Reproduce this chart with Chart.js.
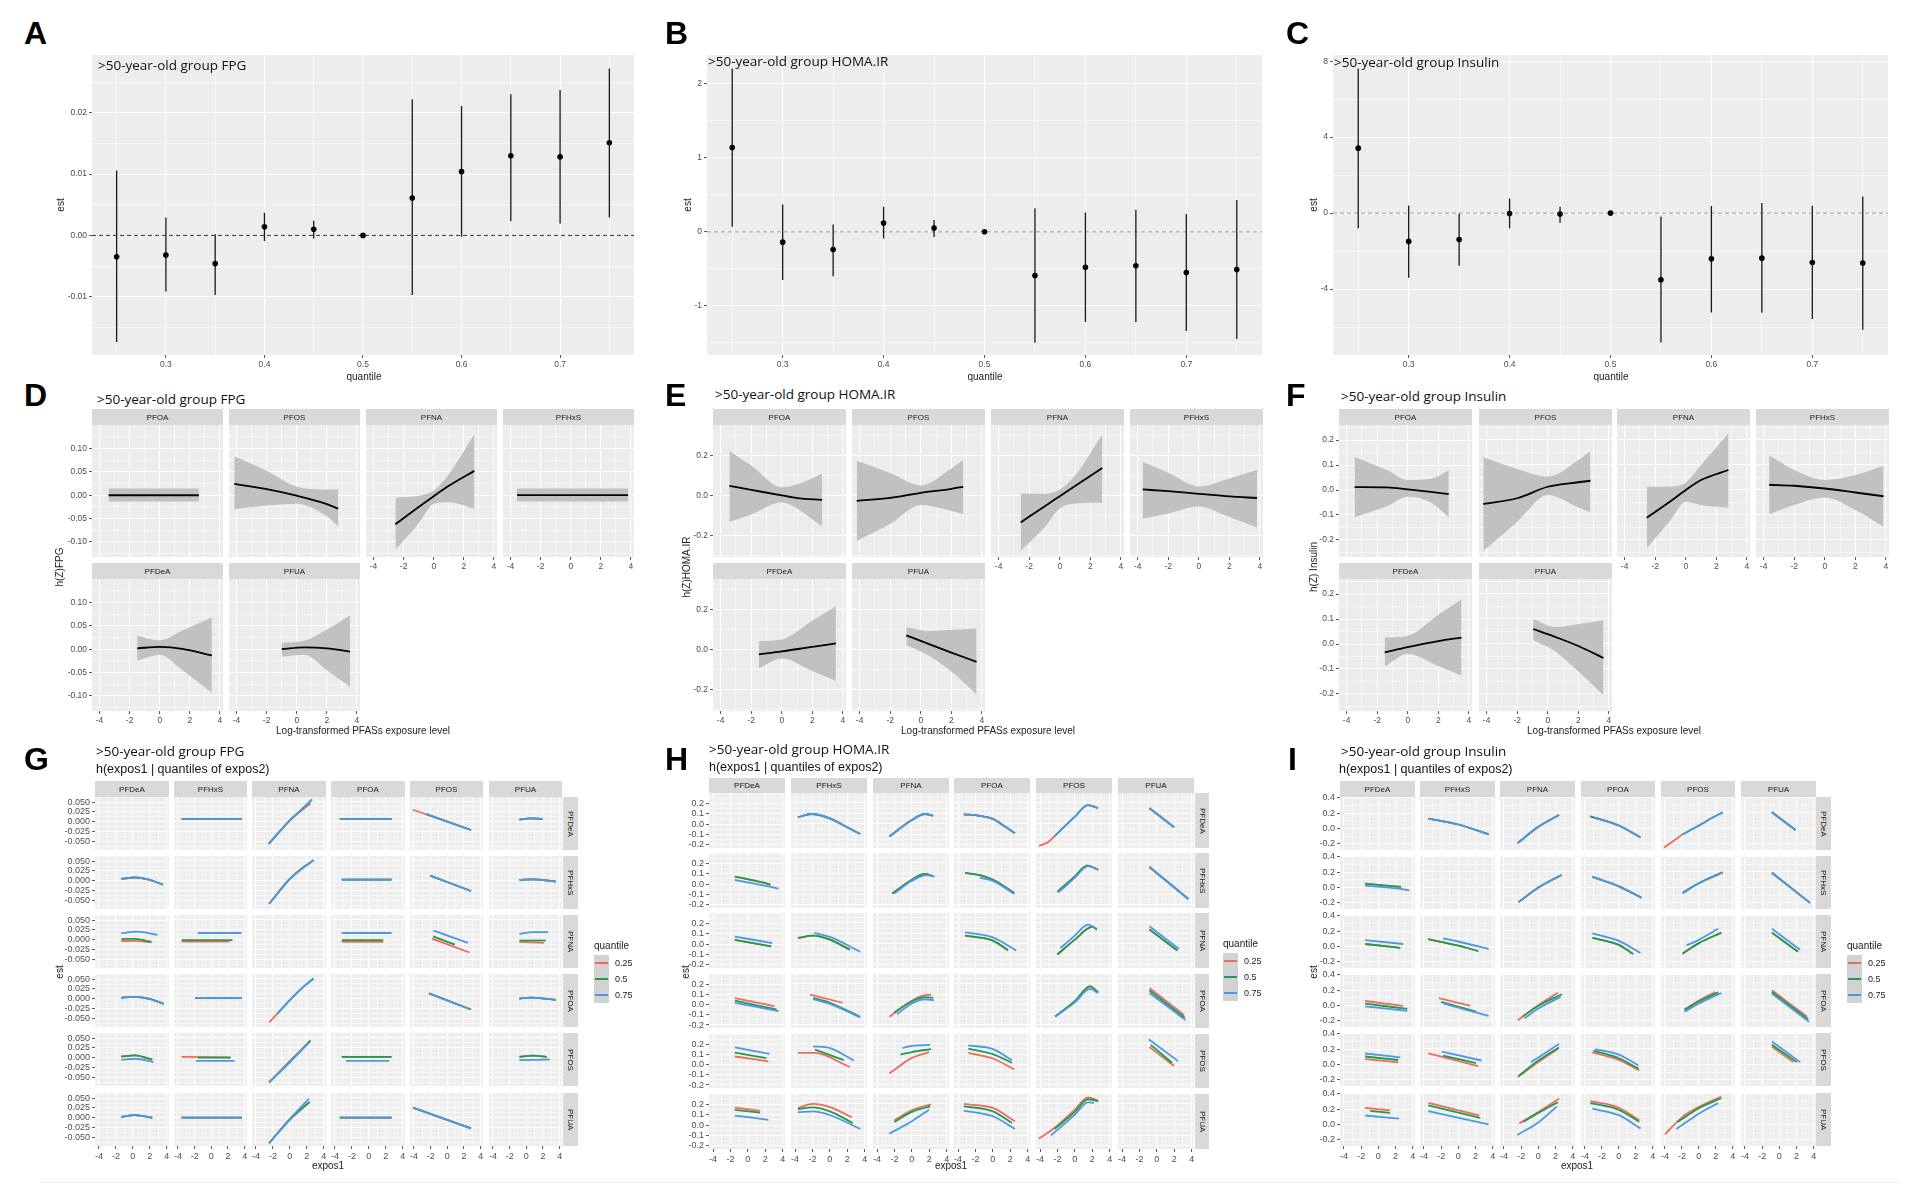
<!DOCTYPE html>
<html>
<head>
<meta charset="utf-8">
<title>PFAS mixture effects, >50-year-old group</title>
<script src="https://cdn.jsdelivr.net/npm/chart.js@4.4.1/dist/chart.umd.min.js"></script>
<style>
  html, body { margin: 0; padding: 0; background: #fff; }
  body { position: relative; width: 1910px; height: 1192px; overflow: hidden; font-family: "Liberation Sans", Arial, sans-serif; }
  canvas { position: absolute; }
  .txt { position: absolute; white-space: nowrap; z-index: 2; color: #111; }
  .letter { font-weight: bold; font-size: 32px; line-height: 32px; color: #000; }
  .ttl { font-family: "Open Sans", sans-serif; font-size: 13.5px; line-height: 13px; }
  .sub { font-size: 12.5px; line-height: 15px; }
  .axt { font-size: 10px; line-height: 10px; color: #222; transform: translate(-50%, -50%); }
  .rot { transform: translate(-50%, -50%) rotate(-90deg); }
  .strip { position: absolute; background: #D9D9D9; color: #1A1A1A; font-size: 8px; display: flex; align-items: center; justify-content: center; z-index: 1; overflow: hidden; }
  .strip.v span { writing-mode: vertical-rl; }
  .key { position: absolute; background: #D2D2D2; z-index: 1; }
  .keyline { position: absolute; height: 2px; z-index: 2; }
  .legtxt { font-size: 9px; line-height: 9px; color: #222; }
</style>
</head>
<body>
<script>
// ---------- A-C: overall mixture effect by quantile ----------
const quantiles = [0.25, 0.30, 0.35, 0.40, 0.45, 0.50, 0.55, 0.60, 0.65, 0.70, 0.75];
const fpgEst = [-0.0035, -0.0032, -0.0046, 0.0014, 0.0010, 0, 0.0061, 0.0104, 0.0130, 0.0128, 0.0151];
const fpgLo  = [-0.0174, -0.0092, -0.0097, -0.0009, -0.0005, 0, -0.0097, -0.0002, 0.0023, 0.0019, 0.0029];
const fpgHi  = [0.0106, 0.0029, 0.0002, 0.0037, 0.0024, 0, 0.0222, 0.0211, 0.0230, 0.0237, 0.0272];
const homaEst = [1.14, -0.14, -0.24, 0.12, 0.05, 0, -0.59, -0.48, -0.46, -0.55, -0.51];
const homaLo  = [0.07, -0.65, -0.60, -0.09, -0.07, 0, -1.50, -1.22, -1.22, -1.34, -1.45];
const homaHi  = [2.21, 0.37, 0.10, 0.34, 0.16, 0, 0.32, 0.26, 0.30, 0.24, 0.43];
const insEst = [3.42, -1.49, -1.39, -0.02, -0.05, 0, -3.51, -2.40, -2.37, -2.60, -2.63];
const insLo  = [-0.79, -3.40, -2.77, -0.79, -0.51, 0, -6.81, -5.23, -5.25, -5.58, -6.14];
const insHi  = [7.61, 0.40, -0.02, 0.77, 0.33, 0, -0.18, 0.37, 0.53, 0.39, 0.88];

const qTicks = [0.3, 0.4, 0.5, 0.6, 0.7];
const qMinor = [0.25, 0.35, 0.45, 0.55, 0.65, 0.75];
const fpgTicks = [-0.01, 0, 0.01, 0.02], fpgMinor = [-0.015, -0.005, 0.005, 0.015, 0.025];
const homaTicks = [-1, 0, 1, 2], homaMinor = [-1.5, -0.5, 0.5, 1.5];
const insTicks = [-4, 0, 4, 8], insMinor = [-6, -2, 2, 6];

// ---------- D-F: univariate exposure-response, [name, x, fit, lower, upper] ----------
const D_FPG = [
  ['PFOA', [-3.4, 2.6], [0, 0], [-0.0135, -0.0135], [0.0142, 0.0142]],
  ['PFOS', [-4.15, -2, 0, 2, 2.75], [0.024, 0.013, -0.001, -0.019, -0.029], [-0.030, -0.022, -0.018, -0.045, -0.067], [0.083, 0.052, 0.018, 0.012, 0.013]],
  ['PFNA', [-2.55, -1, 0, 1, 2.7], [-0.062, -0.025, -0.002, 0.02, 0.052], [-0.117, -0.06, -0.018, -0.015, -0.029], [-0.005, -0.001, 0.01, 0.045, 0.131]],
  ['PFHxS', [-3.57, 3.81], [0, 0], [-0.0135, -0.0135], [0.0142, 0.0142]],
  ['PFDeA', [-1.5, 0, 1.5, 3.46], [0.002, 0.005, 0.001, -0.013], [-0.025, -0.012, -0.045, -0.093], [0.029, 0.019, 0.040, 0.068]],
  ['PFUA', [-1.0, 0.5, 2, 3.54], [0, 0.004, 0.002, -0.005], [-0.016, -0.012, -0.045, -0.080], [0.014, 0.018, 0.042, 0.072]]
];
const E_HOMA = [
  ['PFOA', [-3.43, -2, 0, 1, 2.64], [0.048, 0.028, 0.0, -0.013, -0.022], [-0.133, -0.095, -0.035, -0.065, -0.157], [0.223, 0.15, 0.042, 0.055, 0.11]],
  ['PFOS', [-4.19, -2, 0, 2, 2.78], [-0.027, -0.012, 0.013, 0.033, 0.043], [-0.228, -0.142, -0.048, -0.078, -0.093], [0.173, 0.112, 0.05, 0.135, 0.177]],
  ['PFNA', [-2.56, -1, 0, 1, 2.78], [-0.135, -0.055, -0.004, 0.047, 0.137], [-0.277, -0.16, -0.065, -0.04, -0.037], [0.01, 0.008, 0.03, 0.1, 0.305]],
  ['PFHxS', [-3.67, -2, 0, 2, 3.81], [0.03, 0.021, 0.008, -0.005, -0.013], [-0.117, -0.09, -0.055, -0.108, -0.16], [0.168, 0.113, 0.045, 0.085, 0.127]],
  ['PFDeA', [-1.5, 0, 2, 3.54], [-0.025, -0.01, 0.013, 0.03], [-0.095, -0.045, -0.108, -0.158], [0.042, 0.05, 0.143, 0.217]],
  ['PFUA', [-0.95, 0.5, 2, 3.65], [0.07, 0.028, -0.016, -0.062], [0.022, -0.03, -0.11, -0.225], [0.112, 0.092, 0.098, 0.105]]
];
const F_INS = [
  ['PFOA', [-3.48, -1.37, 0, 1.5, 2.68], [0.012, 0.011, 0.003, -0.007, -0.016], [-0.109, -0.065, -0.027, -0.05, -0.109], [0.131, 0.08, 0.04, 0.045, 0.077]],
  ['PFOS', [-4.22, -2, 0, 2, 2.79], [-0.056, -0.033, 0.013, 0.031, 0.037], [-0.244, -0.127, -0.02, -0.07, -0.089], [0.131, 0.084, 0.053, 0.12, 0.156]],
  ['PFNA', [-2.55, -1, 0, 1, 2.79], [-0.111, -0.045, 0.0, 0.04, 0.08], [-0.233, -0.12, -0.047, -0.06, -0.071], [0.013, 0.013, 0.03, 0.1, 0.227]],
  ['PFHxS', [-3.64, -2, 0, 2, 3.84], [0.021, 0.017, 0.006, -0.01, -0.025], [-0.097, -0.06, -0.03, -0.08, -0.147], [0.139, 0.08, 0.04, 0.06, 0.096]],
  ['PFDeA', [-1.51, 0, 2, 3.51], [-0.033, -0.012, 0.012, 0.026], [-0.09, -0.04, -0.089, -0.126], [0.026, 0.033, 0.117, 0.179]],
  ['PFUA', [-0.96, 0.5, 2, 3.64], [0.06, 0.028, -0.008, -0.056], [0.016, -0.03, -0.11, -0.205], [0.1, 0.068, 0.08, 0.095]]
];
const expoTicks = [-4, -2, 0, 2, 4], expoMinor = [-3, -1, 1, 3];
const dTicks = [-0.1, -0.05, 0, 0.05, 0.1], dMinor = [-0.125, -0.075, -0.025, 0.025, 0.075, 0.125];
const eTicks = [-0.2, 0, 0.2], eMinor = [-0.3, -0.1, 0.1, 0.3];
const fTicks = [-0.2, -0.1, 0, 0.1, 0.2], fMinor = [-0.25, -0.15, -0.05, 0.05, 0.15, 0.25];

// ---------- G-I: bivariate, h(expos1 | quantiles of expos2) ----------
// [row = expos2, col = expos1, q0.25 pts, q0.5 pts, q0.75 pts]; missing -> same as previous
const expoNames = ['PFDeA', 'PFHxS', 'PFNA', 'PFOA', 'PFOS', 'PFUA'];
const qLevels = ['0.25', '0.5', '0.75'];
const G_FPG = [
  [0,1,[-3.56,0.006, 3.66,0.006]],
  [0,2,[-2.5,-0.057, 0,0.003, 1.5,0.03, 2.45,0.046],[-2.5,-0.057, 0,0.003, 1.5,0.033, 2.6,0.056]],
  [0,3,[-3.43,0.006, 2.68,0.006]],
  [0,4,[-4.12,0.03, 2.83,-0.0215],[-2.5,0.019, 2.83,-0.0215]],
  [0,5,[-0.83,0.005, 0.5,0.008, 1.95,0.0067]],
  [1,0,[-1.37,0.005, 0.24,0.0083, 2,0.002, 3.56,-0.010]],
  [1,2,[-2.44,-0.059, 0,0.004, 1.5,0.032, 2.83,0.052]],
  [1,3,[-3.2,0.0025, 2.68,0.0025]],
  [1,4,[-2.05,0.0125, 2.83,-0.0267]],
  [1,5,[-0.83,0.0017, 0.8,0.003, 3.51,-0.0025]],
  [2,0,[-1.37,-0.0033, 0.24,-0.003, 2.2,-0.0067],[-1.37,0.0017, 0.24,0.0025, 2.2,-0.005],[-1.37,0.0167, 0.5,0.021, 2.93,0.0125]],
  [2,1,[-3.56,-0.005, 2.15,-0.005],[-3.56,-0.0017, 2.54,-0.0017],[-1.61,0.0167, 3.6,0.0167]],
  [2,3,[-3.2,-0.006, 1.7,-0.006],[-3.2,-0.0017, 1.7,-0.0017],[-3.2,0.0167, 2.68,0.0167]],
  [2,4,[-1.85,0.0025, 2.66,-0.033],[-1.7,0.008, 0.9,-0.013],[-1.7,0.023, 2.46,-0.0083]],
  [2,5,[-0.83,-0.006, 2.1,-0.0083],[-0.83,-0.0025, 2.34,-0.0025],[-0.83,0.014, 0.8,0.019, 2.6,0.019]],
  [3,0,[-1.37,0.0025, 0,0.005, 2,0.0, 3.66,-0.0133]],
  [3,1,[-1.95,0.0017, 3.66,0.0017]],
  [3,2,[-2.44,-0.061, -1.45,-0.038],[-1.45,-0.038, 0,-0.004, 1.5,0.028, 2.8,0.051]],
  [3,4,[-2.2,0.0133, 2.83,-0.028]],
  [3,5,[-0.83,0, 0.5,0.0025, 3.51,-0.0033]],
  [4,0,[-1.37,0.003, 0.24,0.006, 2.29,-0.005],null,[-1.37,-0.005, 0.24,-0.0025, 2.43,-0.011]],
  [4,1,[-3.56,0.0017, 2.3,0.0005],[-1.6,0, 2.3,0],[-1.85,-0.0083, 2.78,-0.0083]],
  [4,2,[-2.44,-0.063, 0,-0.01, 2.44,0.043],null,[-2.44,-0.063, 0,-0.012, 2.2,0.037]],
  [4,3,[-3.2,0.0017, 2.68,0.0017],null,[-2.7,-0.0083, 2.4,-0.0083]],
  [4,5,[-0.83,0.0017, 0.8,0.005, 2.44,0.0017],null,[-0.83,-0.0067, 2.78,-0.005]],
  [5,0,[-1.37,0.0025, 0.24,0.0067, 2.29,0]],
  [5,1,[-3.56,0, 3.66,0]],
  [5,2,[-2.44,-0.065, 0,-0.005, 2.34,0.04],null,[-2.44,-0.065, 0,-0.004, 2.25,0.048]],
  [5,3,[-3.43,0, 2.68,0]],
  [5,4,[-4.12,0.025, 2.83,-0.0275]]
];
const H_HOMA = [
  [0,1,[-3.67,0.063, -2.16,0.095, 0,0.054, 2,-0.032, 3.48,-0.095]],
  [0,2,[-2.59,-0.12, 0,0.038, 1.5,0.095, 2.45,0.079]],
  [0,3,[-3.34,0.092, -1.5,0.078, 0,0.048, 1.5,-0.03, 2.54,-0.089]],
  [0,4,[-4.14,-0.21, -3.1,-0.175, -2.26,-0.11],[-2.26,-0.11, 0,0.07, 1.5,0.18, 2.68,0.15]],
  [0,5,[-0.85,0.15, 1.98,-0.032]],
  [1,0,[-1.5,0.073, 1.65,0.016, 2.6,-0.006],null,[-1.5,0.041, 2.35,-0.022, 3.53,-0.044]],
  [1,2,[-2.26,-0.092, 0,0.041, 1.5,0.095, 2.45,0.073],null,[-2.0,-0.09, 0,0.03, 1.7,0.085, 2.6,0.07]],
  [1,3,[-3.2,0.105, -1.5,0.085, 0,0.041, 2.45,-0.086],null,[-1.5,0.06, 0,0.03, 2.45,-0.095]],
  [1,4,[-2.02,-0.076, 0,0.073, 1.41,0.175, 2.68,0.137],null,[-1.9,-0.08, 0,0.06, 1.5,0.17, 2.68,0.135]],
  [1,5,[-0.85,0.162, 3.62,-0.143]],
  [2,0,[-1.5,0.041, 2.68,-0.022],null,[-1.5,0.073, 2.82,0.01]],
  [2,1,[-3.67,0.057, -1.93,0.079, 0,0.041, 2.3,-0.054],null,[-1.79,0.105, 0,0.067, 3.48,-0.073]],
  [2,3,[-3.2,0.079, 0,0.032, 1.74,-0.06],null,[-3.2,0.111, 0,0.063, 2.68,-0.063]],
  [2,4,[-2.02,-0.10, 0,0.041, 1.98,0.162, 2.54,0.137],null,[-1.65,-0.038, 0,0.079, 1.5,0.184, 2.54,0.143]],
  [2,5,[-0.85,0.137, 2.35,-0.063],null,[-0.85,0.168, 2.54,-0.048]],
  [3,0,[-1.5,0.063, 3.06,-0.016],[-1.5,0.038, 3.3,-0.048],[-1.5,0.016, 3.53,-0.063]],
  [3,1,[-2.26,0.095, 1.46,0.016],[-1.93,0.063, 0,0.016, 3.48,-0.12],[-1.93,0.05, 0,0.005, 3.48,-0.125]],
  [3,2,[-2.59,-0.12, 0,0.035, 1.5,0.09, 2.2,0.092],[-2.02,-0.079, 0,0.03, 1.5,0.07, 2.45,0.063],[-1.7,-0.095, 0,0.01, 1.5,0.05, 2.54,0.041]],
  [3,4,[-2.26,-0.117, 0,0.032, 1.74,0.175, 2.68,0.117],null,[-2.26,-0.12, 0,0.02, 1.74,0.15, 2.68,0.11]],
  [3,5,[-0.85,0.159, 3.15,-0.105],[-0.85,0.135, 3.2,-0.13],[-0.85,0.111, 3.29,-0.152]],
  [4,0,[-1.5,0.079, 2.35,0.032],[-1.5,0.117, 2.12,0.063],[-1.5,0.168, 2.49,0.105]],
  [4,1,[-3.67,0.111, -1.79,0.111, 2.3,-0.025],[-1.7,0.143, 1.6,0.041],[-1.93,0.175, 0,0.159, 2.77,0.038]],
  [4,2,[-2.59,-0.089, 0,0.063, 1.98,0.12],[-1.3,0.095, 0,0.12, 2.2,0.149],[-1.06,0.159, 0,0.18, 2.1,0.19]],
  [4,3,[-2.82,0.111, 0,0.057, 2.45,-0.048],[-2.82,0.152, 0,0.1, 2.2,0.016],[-2.82,0.184, 0,0.149, 2.2,0.041]],
  [4,5,[-0.85,0.168, 1.98,-0.016],[-0.7,0.19, 1.74,0.016],[-0.94,0.244, 2.45,0.032]],
  [5,0,[-1.5,0.168, 1.41,0.137],[-1.5,0.146, 1.41,0.121],[-1.5,0.092, 2.35,0.051]],
  [5,1,[-3.67,0.162, -1.93,0.2, 0,0.17, 2.55,0.073],[-3.67,0.152, -1.93,0.168, 0,0.13, 2.63,0.019],[-3.67,0.121, -1.93,0.13, 0,0.095, 3.48,-0.038]],
  [5,2,[-2.02,0.044, 0,0.14, 2.2,0.197],[-2.02,0.029, 0,0.124, 2.1,0.178],[-2.59,-0.083, 0,0.035, 1.98,0.146]],
  [5,3,[-3.34,0.2, 0,0.162, 2.54,0.035],[-3.34,0.178, 0,0.13, 2.2,0.019],[-3.34,0.137, 0,0.083, 2.54,-0.038]],
  [5,4,[-4.14,-0.13, -2.35,-0.029, 0,0.146, 1.5,0.263, 2.68,0.232],[-2.35,-0.04, 0,0.125, 1.5,0.245, 2.68,0.225],[-2.75,-0.1, 0,0.098, 1.5,0.216, 2.2,0.21]]
];
const I_INS = [
  [0,1,[-3.5,0.128, 0,0.051, 3.52,-0.077]],
  [0,2,[-2.41,-0.191, 0,0.021, 2.41,0.174]],
  [0,3,[-3.37,0.157, 0,0.038, 2.55,-0.115],null,[-3.0,0.14, 0,0.038, 2.55,-0.115]],
  [0,4,[-4.1,-0.247, -1.93,-0.077],[-1.93,-0.077, 0,0.038, 1.69,0.145, 2.8,0.209]],
  [0,5,[-0.87,0.209, 1.88,-0.021]],
  [1,0,[-1.54,0.051, 2.65,0.009],null,[-1.54,0.026, 2.65,-0.017, 3.61,-0.038]],
  [1,2,[-2.31,-0.191, 0,0.0, 2.7,0.162]],
  [1,3,[-3.13,0.136, 0,0.013, 2.65,-0.132]],
  [1,4,[-1.93,-0.072, 0,0.055, 2.8,0.196]],
  [1,5,[-0.87,0.191, 3.57,-0.2]],
  [2,0,[-1.54,0.034, 2.55,-0.017],null,[-1.54,0.085, 2.89,0.034]],
  [2,1,[-3.5,0.094, 0,0.009, 2.31,-0.06],null,[-1.78,0.106, 0,0.064, 3.52,-0.034]],
  [2,3,[-3.13,0.111, 0,0.021, 1.69,-0.098],null,[-3.13,0.17, 0,0.072, 2.55,-0.085]],
  [2,4,[-1.93,-0.094, 0,0.043, 2.65,0.179],null,[-1.45,0.013, 0,0.085, 2.27,0.23]],
  [2,5,[-0.87,0.179, 2.17,-0.068],null,[-0.87,0.23, 2.41,-0.043]],
  [3,0,[-1.54,0.06, 2.89,-0.004],[-1.54,0.026, 3.37,-0.043],[-1.54,-0.009, 3.37,-0.068]],
  [3,1,[-2.27,0.094, 1.35,-0.004],[-2.02,0.047, 2.07,-0.081],[-1.78,0.026, 3.52,-0.136]],
  [3,2,[-2.41,-0.196, 0,0.004, 2.27,0.166],[-1.83,-0.145, 0,-0.005, 2.75,0.145],[-1.59,-0.166, 0,-0.04, 2.6,0.111]],
  [3,4,[-1.69,-0.051, 0,0.064, 1.93,0.174],[-1.69,-0.06, 0,0.05, 2.3,0.17],[-1.69,-0.081, 0,0.026, 2.65,0.162]],
  [3,5,[-0.87,0.196, 3.23,-0.145],[-0.87,0.175, 3.35,-0.18],[-0.87,0.153, 3.47,-0.213]],
  [4,0,[-1.54,0.072, 2.31,0.03],[-1.54,0.106, 2.31,0.06],[-1.54,0.145, 2.55,0.094]],
  [4,1,[-3.5,0.145, 2.31,-0.021],[-1.78,0.115, 2.07,0.017],[-1.93,0.166, 2.7,0.051]],
  [4,2,[-2.41,-0.162, 0,0.03, 2.27,0.2],[-2.3,-0.15, 0,0.051, 2.41,0.221],[-0.87,0.03, 0,0.09, 2.41,0.264]],
  [4,3,[-3.13,0.157, 0,0.06, 2.41,-0.077],[-3.0,0.179, 0,0.08, 2.31,-0.055],[-2.8,0.2, 0,0.128, 2.31,-0.013]],
  [4,5,[-0.87,0.23, 1.64,0.03],[-0.87,0.255, 2.03,0.03],[-0.87,0.298, 2.41,0.03]],
  [5,0,[-1.54,0.217, 1.35,0.187],[-0.96,0.179, 1.35,0.153],[-1.54,0.119, 2.41,0.077]],
  [5,1,[-3.5,0.281, 2.41,0.119],[-3.5,0.247, 2.55,0.085],[-3.5,0.174, 3.52,0.0]],
  [5,2,[-2.22,0.013, 0,0.162, 2.41,0.332],[-1.73,0.034, 0,0.15, 2.27,0.289],[-2.46,-0.136, 0,0.026, 2.17,0.234]],
  [5,3,[-3.37,0.302, 0,0.217, 2.41,0.055],[-3.37,0.277, 0,0.19, 2.41,0.034],[-3.13,0.204, 0,0.12, 2.55,-0.051]],
  [5,4,[-4,-0.128, -1.93,0.098, 0,0.226, 2.65,0.362],[-2.5,0.03, 0,0.21, 2.65,0.34],[-2.65,-0.06, 0,0.14, 2.27,0.277]]
];
const gTicks = [-0.05, -0.025, 0, 0.025, 0.05], gMinor = [-0.0625, -0.0375, -0.0125, 0.0125, 0.0375];
const hTicks = [-0.2, -0.1, 0, 0.1, 0.2], hMinor = [-0.15, -0.05, 0.05, 0.15, 0.25];
const iTicks = [-0.2, 0, 0.2, 0.4], iMinor = [-0.1, 0.1, 0.3];

const qColors = ['#F0695E', '#1E9C4B', '#4D97E6'];

// ---------- helpers ----------
Chart.defaults.font.family = '"Liberation Sans", Arial, sans-serif';
Chart.register({
  id: 'panelBg',
  beforeDraw(chart, args, opts) {
    const a = chart.chartArea, c = chart.ctx;
    c.save();
    c.fillStyle = opts.color || '#EBEBEB';
    c.fillRect(a.left, a.top, a.right - a.left, a.bottom - a.top);
    c.restore();
  }
});

function axis(min, max, major, minor, show, fmt, size, isX, fsize) {
  const all = major.concat(minor).filter(v => v >= min && v <= max).sort((a, b) => a - b);
  const isMajor = v => major.indexOf(v) >= 0;
  return {
    type: 'linear', min: min, max: max,
    afterBuildTicks: s => { s.ticks = all.map(v => ({ value: v })); },
    afterFit: s => { if (isX) s.height = size; else s.width = size; },
    ticks: { display: show, autoSkip: false, maxRotation: 0, padding: 2, color: '#4D4D4D',
             font: { size: fsize || 8.5 }, callback: v => isMajor(v) ? fmt(v) : '' },
    grid: { color: '#FFFFFF', drawTicks: true, tickLength: 3, tickWidth: 1,
            lineWidth: c => (c.tick && isMajor(c.tick.value)) ? 1.1 : 0.55,
            tickColor: c => (show && c.tick && isMajor(c.tick.value)) ? '#555555' : 'rgba(0,0,0,0)' },
    border: { display: false }
  };
}

function facet(o) {
  const T = 7, R = 9;
  const left = Math.round(o.left), top = Math.round(o.top);
  const w = Math.round(o.left + o.w) - left, h = Math.round(o.top + o.h) - top;
  const W = o.L + w + R, H = T + h + o.B;
  const cv = document.createElement('canvas');
  cv.width = W; cv.height = H;
  cv.style.left = (left - o.L) + 'px'; cv.style.top = (top - T) + 'px';
  cv.style.width = W + 'px'; cv.style.height = H + 'px';
  document.body.appendChild(cv);
  new Chart(cv, {
    type: 'line',
    data: { datasets: o.datasets },
    options: {
      responsive: false, maintainAspectRatio: false, animation: false, events: [],
      layout: { padding: { top: T, right: R, left: 0, bottom: 0 } },
      scales: { x: o.x, y: o.y },
      plugins: { legend: { display: false }, tooltip: { enabled: false }, panelBg: { color: o.bg || '#ECECEC' } }
    }
  });
}

function txt(s, x, y, cls) {
  const d = document.createElement('div');
  d.className = 'txt ' + (cls || '');
  d.textContent = s;
  d.style.left = x + 'px'; d.style.top = y + 'px';
  document.body.appendChild(d);
  return d;
}
function strip(s, x, y, w, h, vertical) {
  const d = document.createElement('div');
  d.className = 'strip' + (vertical ? ' v' : '');
  d.style.left = x + 'px'; d.style.top = y + 'px';
  d.style.width = w + 'px'; d.style.height = h + 'px';
  const sp = document.createElement('span');
  sp.textContent = s;
  d.appendChild(sp);
  document.body.appendChild(d);
}

// ---------- A-C ----------
function estPanel(left, w, est, lo, hi, yMin, yMax, yMajor, yMinor, yFmt, dash) {
  const bars = [];
  quantiles.forEach((q, i) => { bars.push({ x: q, y: lo[i] }, { x: q, y: hi[i] }, { x: q, y: null }); });
  facet({
    left: left, top: 55, w: w, h: 300, L: 40, B: 16, bg: '#EDEDED',
    x: axis(0.225, 0.775, qTicks, qMinor, true, v => v.toFixed(1), 16, true),
    y: axis(yMin, yMax, yMajor, yMinor, true, yFmt, 40, false),
    datasets: [
      { data: quantiles.map((q, i) => ({ x: q, y: est[i] })), showLine: false, pointRadius: 2.8,
        pointBackgroundColor: '#000', pointBorderWidth: 0, order: 0 },
      { data: bars, borderColor: '#1A1A1A', borderWidth: 1.3, pointRadius: 0, spanGaps: false, order: 1 },
      { data: [{ x: 0.225, y: 0 }, { x: 0.775, y: 0 }], borderColor: dash, borderWidth: 1,
        borderDash: [4, 3], pointRadius: 0, order: 2 }
    ]
  });
}
estPanel(92, 542, fpgEst, fpgLo, fpgHi, -0.0195, 0.0294, fpgTicks, fpgMinor, v => v.toFixed(2), '#333333');
estPanel(707, 555, homaEst, homaLo, homaHi, -1.666, 2.39, homaTicks, homaMinor, v => String(v), '#A39A8E');
estPanel(1333, 555, insEst, insLo, insHi, -7.47, 8.32, insTicks, insMinor, v => String(v), '#A39A8E');

// ---------- D-F ----------
function smoothPanel(data, cols, w, yMin, yMax, yMajor, yMinor, yFmt) {
  const rows = [425, 579];
  data.forEach((f, i) => {
    const r = i < 4 ? 0 : 1, c = i < 4 ? i : i - 4;
    const pts = a => f[1].map((x, k) => ({ x: x, y: a[k] }));
    facet({
      left: cols[c], top: rows[r], w: w, h: 132, L: 36, B: 16,
      x: axis(-4.5, 4.2, expoTicks, expoMinor, r === 1 || c >= 2, v => String(v), 16, true),
      y: axis(yMin, yMax, yMajor, yMinor, c === 0, yFmt, 36, false),
      datasets: [
        { data: pts(f[2]), borderColor: '#000', borderWidth: 1.8, pointRadius: 0, fill: false,
          cubicInterpolationMode: 'monotone', order: 0 },
        { data: pts(f[4]), borderColor: 'rgba(0,0,0,0)', borderWidth: 0.01, backgroundColor: '#C1C1C1',
          pointRadius: 0, fill: '+1', cubicInterpolationMode: 'monotone', order: 1 },
        { data: pts(f[3]), borderColor: 'rgba(0,0,0,0)', borderWidth: 0.01, pointRadius: 0, fill: false,
          cubicInterpolationMode: 'monotone', order: 2 }
      ]
    });
    strip(f[0], cols[c], rows[r] - 16, w, 16, false);
  });
}
smoothPanel(D_FPG, [92, 229, 366, 503], 131, -0.132, 0.15, dTicks, dMinor, v => v.toFixed(2));
smoothPanel(E_HOMA, [713, 852, 991, 1130], 133, -0.308, 0.352, eTicks, eMinor, v => v.toFixed(1));
smoothPanel(F_INS, [1339, 1479, 1617, 1756], 133, -0.268, 0.26, fTicks, fMinor, v => v.toFixed(1));

// ---------- G-I ----------
function gridPanel(lines, g, yMin, yMax, yMajor, yMinor, yFmt) {
  for (let r = 0; r < 6; r++) {
    for (let c = 0; c < 6; c++) {
      const e = lines.find(l => l[0] === r && l[1] === c);
      const ds = [];
      if (e) {
        const q = [e[2]];
        q[1] = e[3] || q[0];
        q[2] = e[4] || q[1];
        for (let k = 0; k < 3; k++) {
          const d = [];
          for (let j = 0; j < q[k].length; j += 2) d.push({ x: q[k][j], y: q[k][j + 1] });
          ds.push({ label: qLevels[k], data: d, borderColor: qColors[k], borderWidth: 1.8, pointRadius: 0,
                    fill: false, cubicInterpolationMode: 'monotone', order: 2 - k });
        }
      }
      facet({
        left: g.x0 + c * g.dx, top: g.y0 + r * g.dy, w: g.w, h: g.h, L: 40, B: 16, bg: '#EEEEEE',
        x: axis(-4.47, 4.27, expoTicks, expoMinor, r === 5, v => String(v), 16, true, 9),
        y: axis(yMin, yMax, yMajor, yMinor, c === 0, yFmt, 40, false, 9),
        datasets: ds
      });
    }
    const top = Math.round(g.y0 + r * g.dy);
    strip(expoNames[r], g.rx, top, g.rw, Math.round(g.y0 + r * g.dy + g.h) - top, true);
  }
  for (let c = 0; c < 6; c++) {
    const left = Math.round(g.x0 + c * g.dx);
    strip(expoNames[c], left, g.sy, Math.round(g.x0 + c * g.dx + g.w) - left, g.sh, false);
  }
}
gridPanel(G_FPG, { x0: 95, dx: 78.7, w: 73.5, y0: 797, dy: 59.1, h: 53, sy: 781, sh: 16, rx: 563, rw: 15 },
          -0.0725, 0.0625, gTicks, gMinor, v => v.toFixed(3));
gridPanel(H_HOMA, { x0: 709, dx: 81.8, w: 76, y0: 793, dy: 60.2, h: 54.5, sy: 778, sh: 15, rx: 1195, rw: 14 },
          -0.229, 0.295, hTicks, hMinor, v => v.toFixed(1));
gridPanel(I_INS, { x0: 1340, dx: 80.2, w: 74.5, y0: 797, dy: 59.1, h: 53, sy: 781, sh: 16, rx: 1816, rw: 15 },
          -0.28, 0.408, iTicks, iMinor, v => v.toFixed(1));

// ---------- legends ----------
function legend(x, y) {
  txt('quantile', x, y, 'legtxt').style.fontSize = '10px';
  qLevels.forEach((q, k) => {
    const ky = y + 14 + k * 16;
    const b = document.createElement('div');
    b.className = 'key';
    b.style.cssText = `left:${x}px;top:${ky}px;width:15px;height:16px`;
    document.body.appendChild(b);
    const l = document.createElement('div');
    l.className = 'keyline';
    l.style.cssText = `left:${x + 1}px;top:${ky + 7}px;width:13px;background:${qColors[k]}`;
    document.body.appendChild(l);
    txt(q, x + 21, ky + 4, 'legtxt');
  });
}
legend(594, 941);
legend(1223, 939);
legend(1847, 941);

// ---------- text ----------
[['A', 24, 17], ['B', 665, 17], ['C', 1286, 17], ['D', 24, 379], ['E', 665, 379], ['F', 1286, 379],
 ['G', 24, 743], ['H', 665, 743], ['I', 1288, 743]].forEach(l => txt(l[0], l[1], l[2], 'letter'));

txt('>50-year-old group FPG', 98, 59, 'ttl');
txt('>50-year-old group HOMA.IR', 708, 55, 'ttl');
txt('>50-year-old group Insulin', 1334, 56, 'ttl');
txt('>50-year-old group FPG', 97, 393, 'ttl');
txt('>50-year-old group HOMA.IR', 715, 388, 'ttl');
txt('>50-year-old group Insulin', 1341, 390, 'ttl');
txt('>50-year-old group FPG', 96, 745, 'ttl');
txt('>50-year-old group HOMA.IR', 709, 743, 'ttl');
txt('>50-year-old group Insulin', 1341, 745, 'ttl');
txt('h(expos1 | quantiles of expos2)', 96, 762, 'sub');
txt('h(expos1 | quantiles of expos2)', 709, 760, 'sub');
txt('h(expos1 | quantiles of expos2)', 1339, 762, 'sub');

txt('est', 61, 205, 'axt rot');
txt('est', 688, 205, 'axt rot');
txt('est', 1314, 205, 'axt rot');
txt('quantile', 364, 377, 'axt');
txt('quantile', 985, 377, 'axt');
txt('quantile', 1611, 377, 'axt');
txt('h(Z)FPG', 60, 567, 'axt rot');
txt('h(Z)HOMA.IR', 687, 567, 'axt rot');
txt('h(Z) Insulin', 1314, 567, 'axt rot');
txt('Log-transformed PFASs exposure level', 363, 731, 'axt');
txt('Log-transformed PFASs exposure level', 988, 731, 'axt');
txt('Log-transformed PFASs exposure level', 1614, 731, 'axt');
txt('est', 60, 972, 'axt rot');
txt('est', 686, 972, 'axt rot');
txt('est', 1314, 972, 'axt rot');
txt('expos1', 328, 1166, 'axt');
txt('expos1', 951, 1166, 'axt');
txt('expos1', 1577, 1166, 'axt');

const rule = document.createElement('div');
rule.style.cssText = 'position:absolute;left:40px;top:1182px;width:1860px;height:1px;background:#EEEEEE';
document.body.appendChild(rule);
</script>
</body>
</html>
